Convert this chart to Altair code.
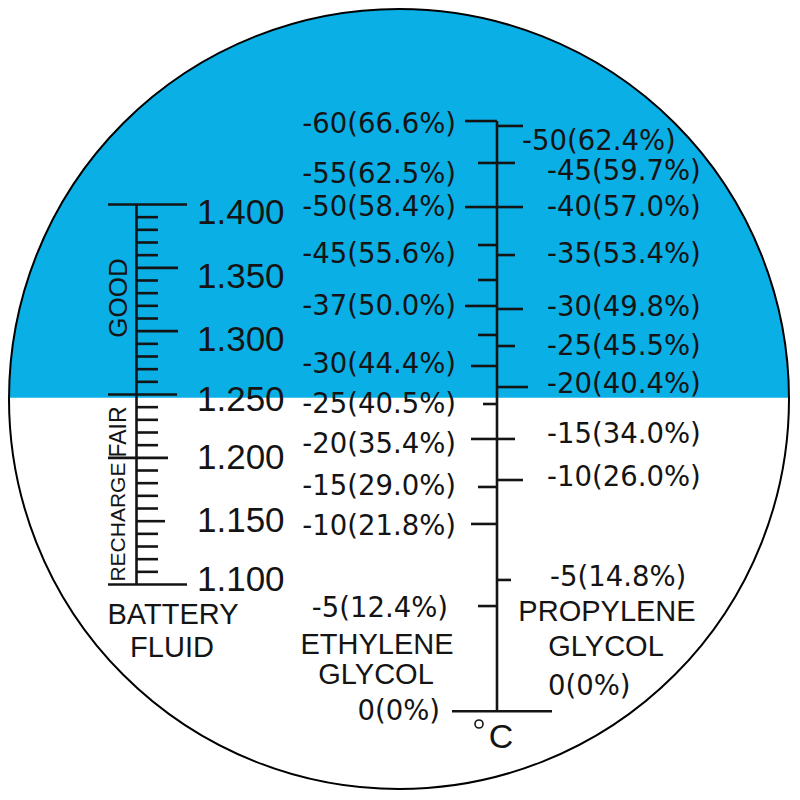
import altair as alt
import pandas as pd

# ---------------- data (scale readings, in specific-gravity units of the reticle) ----------------
bf_major = [1.400, 1.350, 1.300, 1.250, 1.200, 1.150, 1.100]
bf_major_labels = ["1.400", "1.350", "1.300", "1.250", "1.200", "1.150", "1.100"]
bf_label_pos = [1.3933, 1.3428, 1.2930, 1.2457, 1.1999, 1.1501, 1.1036]
bf_minor = [1.39, 1.38, 1.37, 1.36, 1.34, 1.33, 1.32, 1.31, 1.29, 1.28, 1.27, 1.26,
            1.24, 1.23, 1.22, 1.21, 1.19, 1.18, 1.17, 1.16, 1.14, 1.13, 1.12, 1.11]
bf_zones = ["GOOD", "FAIR", "RECHARGE"]
bf_zone_pos = [1.3262, 1.2204, 1.1493]
blue_boundary = 1.2475

eg_tick_sg = [1.4659, 1.4328, 1.3980, 1.3680, 1.3404, 1.3199, 1.2970, 1.2725,
              1.2425, 1.2149, 1.1770, 1.1478, 1.0830, 1.000]
eg_tick_kind = ["long", "short", "long", "short", "short", "long", "short", "mid",
                "tiny", "mid", "short", "mid", "short", "zero"]
eg_labels = ["-60(66.6%)", "-55(62.5%)", "-50(58.4%)", "-45(55.6%)", "-37(50.0%)",
             "-30(44.4%)", "-25(40.5%)", "-20(35.4%)", "-15(29.0%)", "-10(21.8%)",
             "-5(12.4%)", "0(0%)"]
eg_label_sg = [1.4628, 1.4233, 1.3972, 1.3601, 1.3191, 1.2733, 1.2417, 1.2101,
               1.1770, 1.1457, 1.0804, 0.9992]

pg_tick_sg = [1.4620, 1.4328, 1.3980, 1.3601, 1.3175, 1.2883, 1.2559, 1.2149,
              1.1825, 1.1036, 1.000]
pg_tick_kind = ["long", "short", "long", "short", "long", "short", "xlong", "short",
                "long", "tiny", "zero"]
pg_labels = ["-50(62.4%)", "-45(59.7%)", "-40(57.0%)", "-35(53.4%)", "-30(49.8%)",
             "-25(45.5%)", "-20(40.4%)", "-15(34.0%)", "-10(26.0%)", "-5(14.8%)", "0(0%)"]
pg_label_sg = [1.4493, 1.4257, 1.3972, 1.3601, 1.3183, 1.2875, 1.2575, 1.2180,
               1.1841, 1.1052, 1.0191]

titles = ["BATTERY", "FLUID", "ETHYLENE", "GLYCOL", "PROPYLENE", "GLYCOL"]
unit_label = "C"

# ---------------- layout (pixels) ----------------
PX_PER = 1266.7
Y1400 = 204.5


def sg_of(py):
    return 1.4 - (py - Y1400) / PX_PER


title_sg = [sg_of(615), sg_of(648), sg_of(645), sg_of(675), sg_of(612), sg_of(647)]
title_x = [173, 172, 377, 376, 607, 606]

SG_TOP = sg_of(8)
SG_BOT = sg_of(792)
XS = alt.Scale(domain=[8, 792], nice=False, zero=False)
YS = alt.Scale(domain=[SG_BOT, SG_TOP], nice=False, zero=False)

AXIS_X = 497
BF_X = 136.5
BLUE = "#0AAFE6"
INK = "#141414"

X = lambda f="x": alt.X(f + ":Q", scale=XS, axis=None)
Y = lambda f="sg": alt.Y(f + ":Q", scale=YS, axis=None)

# background disc
disc = alt.Chart(pd.DataFrame({"a": [0]})).mark_point(
    shape="circle", filled=True, color=BLUE, opacity=1
).encode(x=alt.value(391), y=alt.value(391), size=alt.value(780 * 780))

white = alt.Chart(pd.DataFrame({"sg": [blue_boundary], "sg2": [SG_BOT]})).mark_rect(
    color="white"
).encode(x=alt.value(0), x2=alt.value(784), y=Y(), y2=alt.Y2("sg2:Q"))

ring = alt.Chart(pd.DataFrame({"a": [0]})).mark_point(
    shape="circle", filled=False, color="black", strokeWidth=2, opacity=1
).encode(x=alt.value(391), y=alt.value(391), size=alt.value(780 * 780))

# battery fluid scale
bf_span = {1.400: (108, 187), 1.350: (137, 178), 1.300: (137, 178), 1.250: (108, 177),
           1.200: (108, 168), 1.150: (137, 165), 1.100: (108, 187)}
bf_rows = [{"sg": v, "x": bf_span[v][0], "x2": bf_span[v][1]} for v in bf_major]
bf_rows += [{"sg": v, "x": 137, "x2": 158} for v in bf_minor]
bf_ticks = alt.Chart(pd.DataFrame(bf_rows)).mark_rule(color=INK, strokeWidth=2.6).encode(
    x=X(), x2=alt.X2("x2:Q"), y=Y())

bf_spine = alt.Chart(pd.DataFrame({"sg": [bf_major[0]], "sg2": [bf_major[-1]], "x": [BF_X]})).mark_rule(
    color=INK, strokeWidth=2.6).encode(x=X(), y=Y(), y2=alt.Y2("sg2:Q"))

bf_text = alt.Chart(pd.DataFrame({"sg": bf_label_pos, "t": bf_major_labels, "x": [197] * 7})).mark_text(
    align="left", baseline="middle", font="Liberation Sans", fontSize=35, color=INK
).encode(x=X(), y=Y(), text="t:N")

zone_size = {"GOOD": 26, "FAIR": 23, "RECHARGE": 21}
zone_layers = [
    alt.Chart(pd.DataFrame({"sg": [p], "t": [z], "x": [119]})).mark_text(
        align="center", baseline="middle", font="Liberation Sans", angle=270,
        fontSize=zone_size[z], color=INK
    ).encode(x=X(), y=Y(), text="t:N")
    for z, p in zip(bf_zones, bf_zone_pos)
]

# glycol scales
eg_start = {"long": 465, "mid": 471, "short": 478, "tiny": 483, "zero": 452}
pg_end = {"long": 523, "xlong": 528, "short": 515, "tiny": 511, "zero": 552}
g_rows = [{"sg": s, "x": eg_start[k], "x2": AXIS_X} for s, k in zip(eg_tick_sg, eg_tick_kind)]
g_rows += [{"sg": s, "x": AXIS_X, "x2": pg_end[k]} for s, k in zip(pg_tick_sg, pg_tick_kind)]
g_ticks = alt.Chart(pd.DataFrame(g_rows)).mark_rule(color=INK, strokeWidth=2.6).encode(
    x=X(), x2=alt.X2("x2:Q"), y=Y())

spine = alt.Chart(pd.DataFrame({"sg": [max(eg_tick_sg)], "sg2": [min(eg_tick_sg)], "x": [AXIS_X]})).mark_rule(
    color=INK, strokeWidth=2.6).encode(x=X(), y=Y(), y2=alt.Y2("sg2:Q"))

eg_x = {"-5(12.4%)": 448, "0(0%)": 440}
eg_text = alt.Chart(pd.DataFrame({"sg": eg_label_sg, "t": eg_labels,
                                  "x": [eg_x.get(t, 456) for t in eg_labels]})).mark_text(
    align="right", baseline="middle", font="DejaVu Sans", fontSize=27.5, color=INK
).encode(x=X(), y=Y(), text="t:N")

pg_x = {"-50(62.4%)": 522, "-5(14.8%)": 550, "0(0%)": 548}
pg_text = alt.Chart(pd.DataFrame({"sg": pg_label_sg, "t": pg_labels,
                                  "x": [pg_x.get(t, 547) for t in pg_labels]})).mark_text(
    align="left", baseline="middle", font="DejaVu Sans", fontSize=27.5, color=INK
).encode(x=X(), y=Y(), text="t:N")

title_text = alt.Chart(pd.DataFrame({"sg": title_sg, "t": titles, "x": title_x})).mark_text(
    align="center", baseline="middle", font="Liberation Sans", fontSize=29, color=INK
).encode(x=X(), y=Y(), text="t:N")

unit_c = alt.Chart(pd.DataFrame({"sg": [sg_of(738)], "t": [unit_label], "x": [501]})).mark_text(
    align="center", baseline="middle", font="Liberation Sans", fontSize=34, color=INK
).encode(x=X(), y=Y(), text="t:N")

degree = alt.Chart(pd.DataFrame({"sg": [sg_of(724)], "x": [479]})).mark_point(
    shape="circle", filled=False, color=INK, strokeWidth=1.6, size=64, opacity=1
).encode(x=X(), y=Y())

chart = alt.layer(
    disc, white, ring, bf_ticks, bf_spine, bf_text, *zone_layers,
    g_ticks, spine, eg_text, pg_text, title_text, unit_c, degree
).properties(
    width=784, height=784, padding=0, autosize=alt.AutoSizeParams(type="none"),
    background="white"
).configure_view(strokeWidth=0)

chart.save("out.html", embed_options={"renderer": "svg", "actions": False})
